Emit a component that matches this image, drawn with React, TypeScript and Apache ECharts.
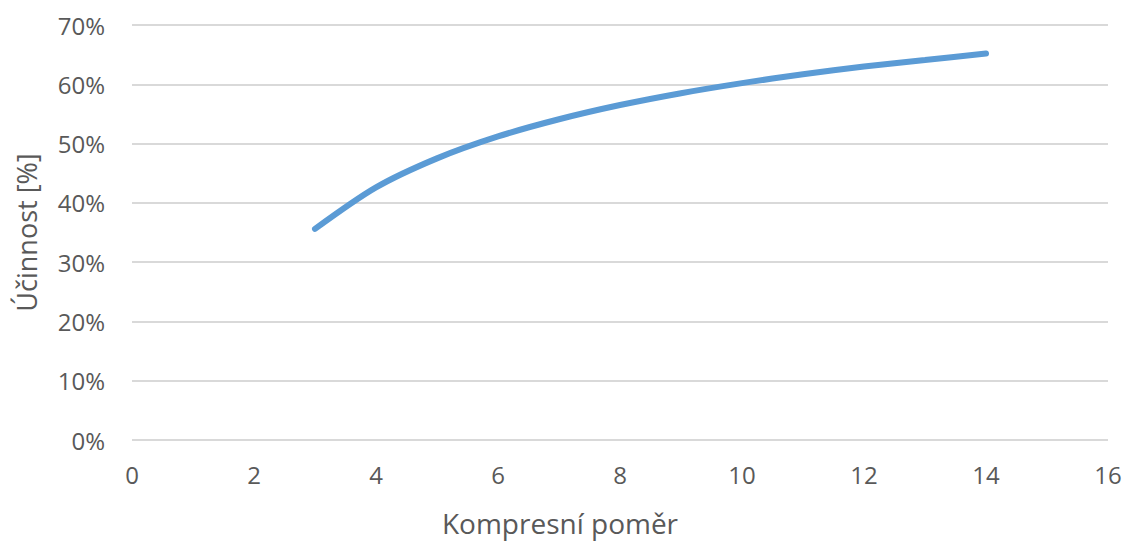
import React, { useEffect, useRef } from "react";
import * as echarts from "echarts";

const compressionRatios = [3, 4, 5, 6, 7, 8, 9, 10, 11, 12, 13, 14];
const efficiency = [0.356, 0.426, 0.475, 0.512, 0.541, 0.565, 0.585, 0.602, 0.617, 0.630, 0.641, 0.652];
const xAxisTitle = "Kompresní poměr";
const yAxisTitle = "Účinnost [%]";

export default function App() {
  const ref = useRef<HTMLDivElement>(null);
  useEffect(() => {
    if (!ref.current) return;
    const chart = echarts.init(ref.current, undefined, { renderer: "svg" });
    const font = "Open Sans";
    chart.setOption({
      animation: false,
      backgroundColor: "#ffffff",
      grid: { left: 132, right: 25, top: 25, bottom: 101, containLabel: false, outerBoundsMode: "none" },
      xAxis: {
        type: "value",
        min: 0,
        max: 16,
        interval: 2,
        name: xAxisTitle,
        nameLocation: "middle",
        nameGap: 69,
        nameTextStyle: { color: "#595959", fontSize: 28, fontFamily: font, padding: [0, 120, 0, 0] },
        axisLine: { show: false },
        axisTick: { show: false },
        splitLine: { show: false },
        axisLabel: { color: "#595959", fontSize: 24, fontFamily: font, margin: 22 },
      },
      yAxis: {
        type: "value",
        min: 0,
        max: 0.7,
        interval: 0.1,
        name: yAxisTitle,
        nameLocation: "middle",
        nameGap: 92,
        nameTextStyle: { color: "#595959", fontSize: 27, fontFamily: font },
        axisLine: { show: false },
        axisTick: { show: false },
        splitLine: { show: true, lineStyle: { color: "#d9d9d9", width: 2 } },
        axisLabel: {
          color: "#595959",
          fontSize: 24,
          fontFamily: font,
          margin: 27,
          formatter: (v: number) => `${Math.round(v * 100)}%`,
        },
      },
      series: [
        {
          type: "line",
          data: compressionRatios.map((x, i) => [x, efficiency[i]]),
          smooth: 0.3,
          showSymbol: false,
          lineStyle: { color: "#5b9bd5", width: 6, cap: "round" },
        },
      ],
    });
    return () => chart.dispose();
  }, []);
  return (
    <div
      ref={ref}
      style={{ position: "fixed", left: 0, top: 0, width: 1133, height: 541, background: "#fff" }}
    />
  );
}
